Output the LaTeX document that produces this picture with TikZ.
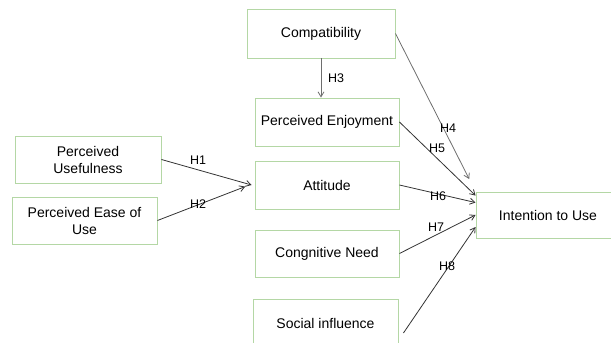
\documentclass[tikz,border=0pt]{standalone}
\usepackage{fontspec}
\setmainfont{Liberation Sans}
\usetikzlibrary{arrows.meta}
\definecolor{boxgreen}{RGB}{180,215,165}
\definecolor{hgray}{RGB}{110,110,110}
\begin{document}
\begin{tikzpicture}[x=1pt,y=-1pt,
    construct/.style={draw=boxgreen, line width=0.9pt, rectangle, fill=white, inner sep=0pt, font=\fontsize{14}{17}\selectfont},
    hyp/.style={->, >={Straight Barb[length=5pt,width=6pt]}, draw=black!80, line width=0.8pt},
    hlabel/.style={font=\fontsize{12.5}{14}\selectfont, inner sep=0pt}]
    \clip (0,0) rectangle (611,343);
    \useasboundingbox (0,0) rectangle (611,343);

    % Left side
    \node[construct, minimum width=146pt, minimum height=47pt] (pu) at (88, 159.5) {\parbox{3cm}{\centering Perceived\\Usefulness}};
    \node[construct, minimum width=145pt, minimum height=47pt] (peu) at (84.5, 220.5) {\parbox{4cm}{\centering Perceived Ease of\\Use}};

    % Middle column
    \node[construct, minimum width=148pt, minimum height=49pt] (compat) at (321, 33.5) {Compatibility};
    \node[construct, minimum width=144pt, minimum height=48pt] (pe) at (327, 122) {Perceived Enjoyment};
    \node[construct, minimum width=144pt, minimum height=48pt] (att) at (327, 185) {Attitude};
    \node[construct, minimum width=144pt, minimum height=47pt] (cn) at (327, 253.5) {Congnitive Need};
    \node[construct, minimum width=145pt, minimum height=48pt] (soc) at (325.5, 323) {Social influence};

    % Outcome
    \node[construct, minimum width=144pt, minimum height=46pt] (iu) at (548, 215) {Intention to Use};

    % Connections
    \draw[hyp] (pu.east) -- ([xshift=-3pt]att.west);
    \draw[hyp, shorten >=10pt] (peu.east) -- ([yshift=2pt]att.west);
    \draw[hyp, draw=hgray] (compat.south) -- (compat.south |- pe.north);
    \draw[hyp, draw=hgray, shorten >=14pt] (compat.east) -- (iu.north west);
    \draw[hyp] (pe.east) -- ([yshift=-4pt]iu.north west);
    \draw[hyp] (att.east) -- ([yshift=-11pt]iu.north west);
    \draw[hyp] (cn.east) -- (iu.west);
    \draw[hyp] ([shift={(5pt,-10pt)}]soc.east) -- ([yshift=-12pt]iu.west);

    % Hypothesis labels
    \node[hlabel] (h1) at (198, 160) {H1};
    \node[hlabel] (h2) at (198, 204) {H2};
    \node[hlabel] (h3) at (336, 78) {H3};
    \node[hlabel] (h4) at (448, 128) {H4};
    \node[hlabel] (h5) at (437, 148) {H5};
    \node[hlabel] (h6) at (438, 196) {H6};
    \node[hlabel] (h7) at (436, 227) {H7};
    \node[hlabel] (h8) at (447, 266) {H8};
\end{tikzpicture}
\end{document}
